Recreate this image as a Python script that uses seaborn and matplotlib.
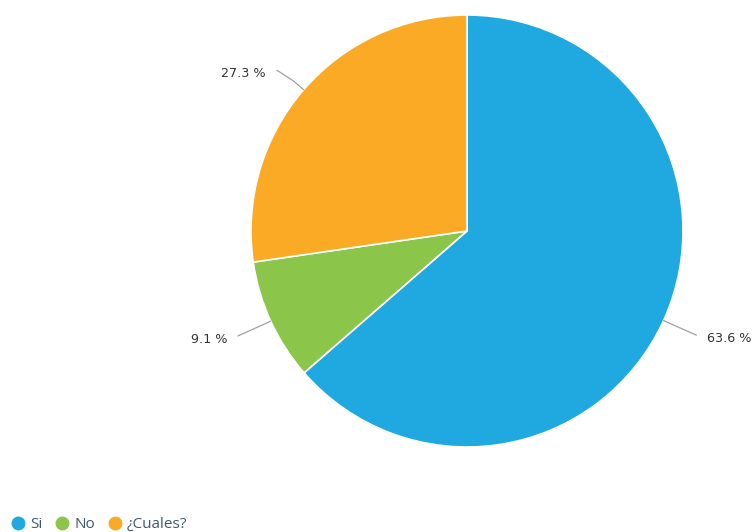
import numpy as np
import matplotlib
matplotlib.use("Agg")
import matplotlib.pyplot as plt
from matplotlib.lines import Line2D
import seaborn as sns

categories = ["Si", "No", "¿Cuales?"]
values = [63.6, 9.1, 27.3]
labels = ["63.6 %", "9.1 %", "27.3 %"]
colors = ["#20A9E1", "#8BC64A", "#FBAA25"]

sns.set_theme(style="white")
plt.rcParams['font.family'] = ['DejaVu Sans']

fig = plt.figure(figsize=(7.55, 5.32), dpi=100)
W, H = 755, 532
cx, cy, R = 467, 231, 216
ax = fig.add_axes([(cx - R) / W, (H - cy - R) / H, 2 * R / W, 2 * R / H])

wedges, _ = ax.pie(values, colors=colors, startangle=90, counterclock=False,
                   radius=1.0, wedgeprops=dict(edgecolor="white", linewidth=1.2))
ax.set_xlim(-1, 1)
ax.set_ylim(-1, 1)
ax.set_aspect("equal")
ax.axis("off")

for w, lab in zip(wedges, labels):
    mid = np.deg2rad((w.theta1 + w.theta2) / 2)
    c, s = np.cos(mid), np.sin(mid)
    side = 1 if c >= 0 else -1
    p0 = (c * 1.0, s * 1.0)
    p1 = (c * 1.06, s * 1.06)
    tx, ty = c * 1.2 + side * 0.02, s * 1.2
    if s > 0.5:
        tx, ty = c * 1.23, s * 1.115
    p2 = (tx - side * 0.05, ty + 0.015)
    ax.plot([p0[0], p1[0], p2[0]], [p0[1], p1[1], p2[1]], color="#a0a0a0",
            lw=0.9, clip_on=False, solid_capstyle="round", solid_joinstyle="round")
    ax.text(tx, ty, lab, ha="left" if side > 0 else "right", va="center",
            fontsize=9.2, color="#333333", clip_on=False)

handles = [Line2D([0], [0], marker="o", linestyle="", markersize=9,
                  markerfacecolor=col, markeredgecolor=col) for col in colors]
leg = fig.legend(handles, categories, loc="lower left", bbox_to_anchor=(-0.005, -0.026),
                 ncol=3, frameon=False, handletextpad=0.3, columnspacing=0.8,
                 handlelength=1.0, prop={"family": "Open Sans", "size": 11},
                 labelcolor="#3E576F")

fig.savefig("out.png", dpi=100)
